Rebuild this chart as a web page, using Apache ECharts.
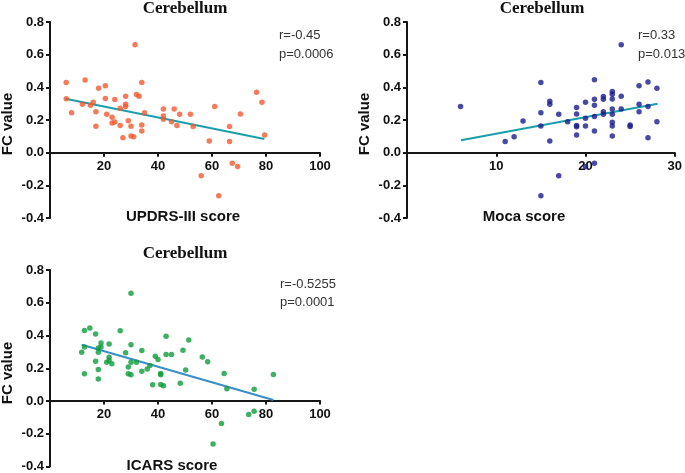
<!DOCTYPE html>
<html>
<head>
<meta charset="utf-8">
<script src="https://cdn.jsdelivr.net/npm/echarts@6/dist/echarts.min.js"></script>
<style>html,body{margin:0;padding:0;background:#fff;}#c{width:685px;height:473px;}</style>
</head>
<body>
<div id="c"></div>
<script>
// Panel 1: UPDRS-III score vs FC value
const updrsX = [6,6,8,13,12,15,16,17,17,18,20.5,20.5,21,24,23,23,24,26,26,27,28,28,28,29,30,30,31,31.5,32,33,34,34,34,35,42,42,42,45,46,47,48,52,53,59,56,61,62.5,66.5,66.5,67.5,69.5,70.5,76.5,78.5,79.5];
const updrsFC = [0.43,0.33,0.245,0.445,0.297,0.29,0.309,0.25,0.162,0.395,0.409,0.331,0.235,0.325,0.217,0.182,0.188,0.272,0.166,0.092,0.346,0.297,0.282,0.196,0.162,0.102,0.098,0.66,0.356,0.346,0.43,0.17,0.133,0.245,0.268,0.225,0.205,0.19,0.268,0.166,0.235,0.235,0.16,0.072,-0.141,0.282,-0.264,0.16,0.068,-0.065,-0.084,0.237,0.37,0.309,0.108];
const updrsFitX = [5.75, 79.4];
const updrsFitY = [0.33, 0.084];

// Panel 2: Moca score vs FC value
const mocaX = [6,11,12,13,15,15,15,15,16,16,16,17,17,18,19,19,19,19,19,20,20,20,20,21,21,21,21,21,21,22,22,22,22,23,23,23,23,23,23,23,23,24,24,24,25,25,26,26,26,27,27,27,28,28];
const mocaFC = [0.282,0.068,0.098,0.194,0.43,0.245,0.164,-0.264,0.315,0.297,0.072,0.235,-0.141,0.19,0.276,0.237,0.166,0.158,0.108,0.309,0.211,0.164,-0.086,0.446,0.327,0.29,0.221,0.133,-0.065,0.344,0.327,0.25,0.235,0.374,0.358,0.329,0.268,0.235,0.186,0.164,0.102,0.661,0.346,0.268,0.17,0.16,0.409,0.297,0.25,0.432,0.282,0.092,0.395,0.19];
const mocaFitX = [6.05, 28.08];
const mocaFitY = [0.076, 0.30];

// Panel 3: ICARS score vs FC value
const icarsX = [11.75,12.75,12.75,12.75,14.75,16.9,16.9,17.9,17.9,17.9,17.9,18.9,18.9,21.9,21.9,21,21.9,22.9,26,28,29,29,30,30,30,30,32,34,34,36,37,38,39,40,41,41,41,42,43,43,45,48.25,49.25,50.25,51.4,56.4,58.4,60.4,63.5,64.5,65.5,73.6,75.6,75.6,82.75];
const icarsFC = [0.298,0.431,0.33,0.166,0.446,0.409,0.243,0.324,0.298,0.192,0.134,0.354,0.33,0.348,0.267,0.237,0.247,0.227,0.429,0.294,0.207,0.166,0.658,0.344,0.237,0.16,0.237,0.308,0.182,0.196,0.217,0.099,0.273,0.253,0.168,0.16,0.101,0.093,0.395,0.284,0.284,0.109,0.31,0.19,0.373,0.269,0.239,-0.263,-0.138,0.168,0.075,-0.083,0.071,-0.063,0.162];
const icarsFitX = [11.75, 82.75];
const icarsFitY = [0.344, 0.006];

const yTicks = {min: -0.4, max: 0.8, interval: 0.2};
const titles = ['Cerebellum', 'Cerebellum', 'Cerebellum'];
const xNames = ['UPDRS-III score', 'Moca score', 'ICARS score'];
const stats = [['r=-0.45', 'p=0.0006'], ['r=0.33', 'p=0.013'], ['r=-0.5255', 'p=0.0001']];

function zip(a, b) { return a.map((v, i) => [v, b[i]]); }

const axisColor = '#161616';
const grids = [
  {left: 50, top: 22, width: 270, height: 196},
  {left: 407, top: 22, width: 270, height: 196},
  {left: 50, top: 270, width: 270, height: 198}
];
const xRanges = [{min: 0, max: 100, interval: 20}, {min: 0, max: 30, interval: 10}, {min: 0, max: 100, interval: 20}];

// place the x axis at FC value 0 (axis crossing at zero)
const zeroFrac = (0 - yTicks.min) / (yTicks.max - yTicks.min);

const xAxes = xRanges.map((r, i) => ({
  type: 'value', gridIndex: i, min: r.min, max: r.max, interval: r.interval,
  position: 'bottom',
  offset: -zeroFrac * grids[i].height,
  axisLine: {show: true, onZero: false, lineStyle: {color: axisColor, width: 2}},
  axisTick: {show: true, length: 4, lineStyle: {color: axisColor, width: 2}},
  axisLabel: {color: '#111', fontFamily: 'Liberation Sans, Arial', fontWeight: 'bold', fontSize: 13, margin: 7,
    formatter: v => v === 0 ? '' : String(v)},
  splitLine: {show: false}
}));
const yAxes = grids.map((g, i) => ({
  type: 'value', gridIndex: i, min: yTicks.min, max: yTicks.max, interval: yTicks.interval,
  axisLine: {show: true, onZero: false, lineStyle: {color: axisColor, width: 2}},
  axisTick: {show: true, length: 4, lineStyle: {color: axisColor, width: 2}},
  axisLabel: {color: '#111', fontFamily: 'Liberation Sans, Arial', fontWeight: 'bold', fontSize: 13, margin: 6,
    formatter: v => v.toFixed(1)},
  splitLine: {show: false}
}));

const pointColors = ['#f05a30', '#1a1a8e', '#0e9c3c'];
const lineColors = ['#1a9faa', '#1a9faa', '#3a8ec8'];
const scat = [zip(updrsX, updrsFC), zip(mocaX, mocaFC), zip(icarsX, icarsFC)];
const fits = [zip(updrsFitX, updrsFitY), zip(mocaFitX, mocaFitY), zip(icarsFitX, icarsFitY)];

const series = [];
for (let i = 0; i < 3; i++) {
  series.push({type: 'scatter', xAxisIndex: i, yAxisIndex: i, data: scat[i], symbolSize: 5.5,
    itemStyle: {color: pointColors[i]}, z: 3, silent: true});
  series.push({type: 'line', xAxisIndex: i, yAxisIndex: i, data: fits[i], symbol: 'none',
    lineStyle: {color: lineColors[i], width: 2}, z: 2, silent: true});
}

const graphic = [];
const titleY = [9, 9, 254];
const statY = [[35.5, 54], [35.5, 54], [284, 302.5]];
const statX = [279, 638, 280];
const xNameY = [217, 217, 466];
const xNameX = [183, 524, 172];
const fcX = [8, 365, 8];
for (let i = 0; i < 3; i++) {
  const g = grids[i];
  graphic.push({type: 'text', x: g.left + g.width / 2, y: titleY[i],
    style: {text: titles[i], font: 'bold 17px "Liberation Serif", "Times New Roman", serif', fill: '#111', textAlign: 'center', textVerticalAlign: 'middle'}});
  graphic.push({type: 'text', x: fcX[i], y: g.top + g.height / 2 + 4, rotation: Math.PI / 2,
    style: {text: 'FC value', font: 'bold 15px "Liberation Sans", Arial, sans-serif', fill: '#111', textAlign: 'center', textVerticalAlign: 'middle'}});
  graphic.push({type: 'text', x: xNameX[i], y: xNameY[i],
    style: {text: xNames[i], font: 'bold 15px "Liberation Sans", Arial, sans-serif', fill: '#111', textAlign: 'center', textVerticalAlign: 'middle'}});
  for (let k = 0; k < 2; k++) {
    graphic.push({type: 'text', x: statX[i], y: statY[i][k],
      style: {text: stats[i][k], font: '13px "Liberation Sans", Arial, sans-serif', fill: '#333', textAlign: 'left', textVerticalAlign: 'middle'}});
  }
}

const chart = echarts.init(document.getElementById('c'), null, {renderer: 'canvas'});
chart.setOption({
  animation: false,
  backgroundColor: '#fff',
  grid: grids,
  xAxis: xAxes,
  yAxis: yAxes,
  series: series,
  graphic: graphic
});
</script>
</body>
</html>
